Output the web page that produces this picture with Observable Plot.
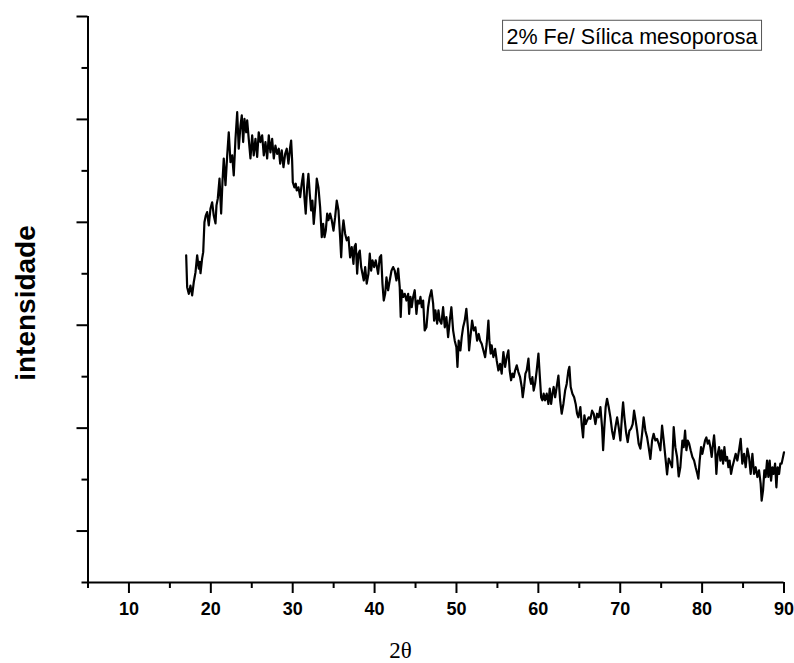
<!DOCTYPE html>
<html>
<head>
<meta charset="utf-8">
<script src="https://cdn.jsdelivr.net/npm/d3@7"></script>
<script src="https://cdn.jsdelivr.net/npm/@observablehq/plot@0.6"></script>
<style>
  html, body { margin: 0; padding: 0; background: white; }
  svg { display: block; }
</style>
</head>
<body>
<div id="chart"></div>
<script>
const legendLabel = "2% Fe/ Sílica mesoporosa";
const xLabel = "2θ";
const yLabel = "intensidade";

const xMajorTicks = [10, 20, 30, 40, 50, 60, 70, 80, 90];
const xMinorTicks = [5, 15, 25, 35, 45, 55, 65, 75, 85];
const yMajorTicks = [100, 300, 500, 700, 900, 1100];
const yMinorTicks = [0, 200, 400, 600, 800, 1000];

const twoTheta = [
16.99,17.11,17.31,17.51,17.72,17.92,18.13,18.33,18.53,18.65,18.74,18.94,19.07,19.22,19.38,19.55,19.75,19.96,20.16,20.36,
20.57,20.69,20.85,21.06,21.26,21.42,21.58,21.79,22.00,22.19,22.40,22.61,22.80,23.01,23.22,23.41,23.62,23.78,23.95,24.11,
24.32,24.44,24.63,24.84,25.05,25.24,25.45,25.66,25.85,26.06,26.27,26.47,26.67,26.88,27.08,27.28,27.49,27.69,27.89,28.10,28.30,
28.47,28.66,28.87,29.08,29.27,29.48,29.69,29.81,29.93,30.01,30.21,30.37,30.49,30.70,30.91,31.10,31.28,31.43,31.59,31.76,
31.92,32.08,32.25,32.41,32.57,32.74,32.94,33.14,33.35,33.55,33.72,33.88,34.04,34.21,34.36,34.57,34.77,34.98,35.18,35.38,
35.59,35.79,35.92,36.07,36.20,36.40,36.60,36.81,37.01,37.21,37.42,37.54,37.70,37.87,38.03,38.19,38.36,38.52,38.68,38.85,
39.04,39.25,39.41,39.58,39.74,39.95,40.14,
40.43,40.63,40.80,40.96,41.12,41.29,41.45,41.65,41.85,42.06,42.27,42.46,42.67,42.88,43.07,43.19,43.32,43.49,43.68,43.89,
44.10,44.22,44.38,44.54,44.71,44.90,45.11,45.27,45.44,45.60,45.76,45.93,46.12,46.33,46.54,46.73,46.94,47.15,47.27,47.43,
47.64,47.80,47.96,48.16,48.37,48.57,48.77,48.98,49.18,49.38,49.59,49.79,49.99,50.12,50.27,50.48,50.64,50.81,51.01,51.21,
51.42,51.54,51.70,51.91,52.11,52.31,52.52,52.72,
52.89,53.08,53.29,53.50,53.69,53.90,54.02,54.18,54.30,54.51,54.72,54.91,55.12,55.33,55.52,55.73,55.94,56.14,56.34,56.50,
56.67,56.83,56.99,57.16,57.36,57.56,57.77,57.97,58.09,58.26,58.42,58.58,58.79,58.94,59.11,59.27,59.43,59.60,59.80,60.01,
60.16,60.34,60.49,60.65,60.82,61.02,61.23,61.39,61.56,61.72,61.87,62.05,62.24,62.45,62.66,62.85,63.06,63.27,63.46,63.67,
63.79,63.95,64.16,64.37,64.56,64.73,64.89,
65.13,65.29,65.46,65.62,65.78,65.95,66.15,66.36,66.56,66.76,66.97,67.17,67.37,67.58,67.78,67.91,68.06,68.22,68.39,68.59,
68.80,69.00,69.20,69.41,69.62,69.81,70.02,70.23,70.35,70.51,70.71,70.91,71.12,71.32,71.52,71.69,71.85,72.06,72.25,72.46,
72.67,72.86,73.07,73.28,73.47,73.68,73.89,74.08,74.29,74.50,74.69,74.90,75.11,75.31,75.51,75.72,75.92,76.12,76.33,76.53,
76.73,76.94,77.14,77.34,
77.59,77.75,77.92,78.08,78.24,78.41,78.60,78.81,79.02,79.21,79.42,79.54,79.70,79.87,80.03,80.19,80.36,80.52,80.68,80.85,
81.01,81.17,81.34,81.46,81.58,81.74,81.90,82.07,82.23,82.39,82.56,82.72,82.88,83.05,83.21,83.36,83.53,83.69,83.90,84.10,
84.30,84.51,84.71,84.91,85.12,85.32,85.53,85.73,85.93,86.14,86.34,86.54,86.75,86.95,87.15,87.27,87.44,87.60,87.76,87.93,
88.09,88.25,88.42,88.58,88.74,88.91,89.07,89.22,89.40,89.55,89.71,89.88,90.00
];

const intensity = [
636,574,561,577,558,584,603,636,610,623,601,630,642,700,713,720,694,727,739,713,
698,733,746,785,717,778,824,772,830,875,817,830,791,862,914,843,888,908,856,901,
875,898,862,824,869,830,862,827,875,856,869,830,856,824,869,836,862,824,849,833,843,
814,840,807,833,843,814,846,859,820,778,768,775,762,768,749,775,794,749,717,768,
794,756,723,742,697,729,785,768,729,671,697,671,684,717,704,717,704,684,710,742,
723,671,632,684,704,678,665,671,632,652,619,652,658,600,639,645,613,600,587,613,
581,600,639,606,626,613,626,
600,632,636,581,548,561,593,568,587,606,613,606,587,610,574,516,568,555,561,548,
561,522,555,535,555,568,522,548,542,555,535,548,490,496,535,555,568,542,509,529,
503,529,509,503,535,496,516,477,509,535,490,470,457,419,470,451,477,496,509,532,
490,451,477,509,490,496,470,483,
470,464,451,438,464,509,470,445,461,438,454,432,412,425,406,448,419,438,451,412,
393,406,399,412,422,409,399,380,360,380,406,412,435,399,386,399,373,386,412,445,
406,360,354,367,354,367,347,377,347,367,380,360,380,402,354,328,347,373,386,412,
419,380,367,360,347,328,321,
341,308,282,325,308,315,321,318,334,328,308,328,321,341,302,257,302,341,357,341,
321,295,279,302,321,302,276,328,350,321,292,273,295,299,308,334,318,295,270,260,
289,321,295,282,263,240,276,289,276,279,270,257,305,276,244,210,241,233,224,302,
263,244,206,224,
276,263,295,257,276,270,257,244,237,224,211,202,237,263,250,263,276,282,270,276,
263,244,270,286,263,211,250,263,237,257,231,263,237,244,224,237,211,224,237,250,
237,257,279,231,250,224,260,244,211,250,211,224,205,218,192,159,179,218,205,237,
205,237,198,224,211,231,185,224,211,231,231,244,253
];

const data = twoTheta.map((t, i) => ({t, v: intensity[i]}));

const font = "'Liberation Sans', Arial, Helvetica, sans-serif";

const chart = Plot.plot({
  width: 794,
  height: 663,
  marginLeft: 87.5,
  marginRight: 10.5,
  marginTop: 16,
  marginBottom: 81,
  style: {background: "white", fontFamily: font, color: "black"},
  x: {domain: [5, 90]},
  y: {domain: [0, 1100]},
  marks: [
    Plot.ruleX([5], {stroke: "black", strokeWidth: 2}),
    Plot.ruleY([0], {stroke: "black", strokeWidth: 2}),
    Plot.axisY(yMajorTicks, {tickSize: 11, tickFormat: () => "", strokeWidth: 2, label: null}),
    Plot.axisY(yMinorTicks, {tickSize: 6, tickFormat: () => "", strokeWidth: 2, label: null}),
    Plot.axisX(xMajorTicks, {tickSize: 11, tickPadding: 9, fontSize: 18, fontWeight: "bold", strokeWidth: 2, label: null}),
    Plot.axisX(xMinorTicks, {tickSize: 6, tickFormat: () => "", strokeWidth: 2, label: null}),
    Plot.line(data, {x: "t", y: "v", stroke: "black", strokeWidth: 2.2, strokeLinejoin: "round", curve: "linear"}),
    Plot.text([yLabel], {frameAnchor: "left", textAnchor: "middle", lineAnchor: "middle", rotate: -90, dx: -62, dy: 3.5, fontSize: 28, fontWeight: "bold", fill: "black"}),
    Plot.text([xLabel], {frameAnchor: "bottom", textAnchor: "middle", lineAnchor: "middle", dx: -35.5, dy: 68, fontSize: 23, fontFamily: "'Liberation Serif', 'Times New Roman', serif", fill: "black"}),
    Plot.text([legendLabel], {frameAnchor: "top-right", textAnchor: "end", lineAnchor: "top", dx: -26.5, dy: 12.5, fontSize: 21.5, fill: "black"})
  ]
});

document.getElementById("chart").appendChild(chart);

// frame box around the legend text
const legendText = Array.from(chart.querySelectorAll("text")).find(t => t.textContent === legendLabel);
if (legendText) {
  const bb = legendText.getBBox();
  const ctm = legendText.getCTM();
  const svgCtm = chart.getCTM ? chart.getCTM() : null;
  const p = chart.createSVGPoint();
  p.x = bb.x; p.y = bb.y;
  const m = svgCtm ? svgCtm.inverse().multiply(ctm) : ctm;
  const p0 = p.matrixTransform(m);
  d3.select(chart).insert("rect", ":first-child")
    .attr("x", p0.x - 4)
    .attr("y", p0.y - 5)
    .attr("width", bb.width + 8)
    .attr("height", bb.height + 6)
    .attr("fill", "none")
    .attr("stroke", "#555")
    .attr("stroke-width", 1);
}
</script>
</body>
</html>
